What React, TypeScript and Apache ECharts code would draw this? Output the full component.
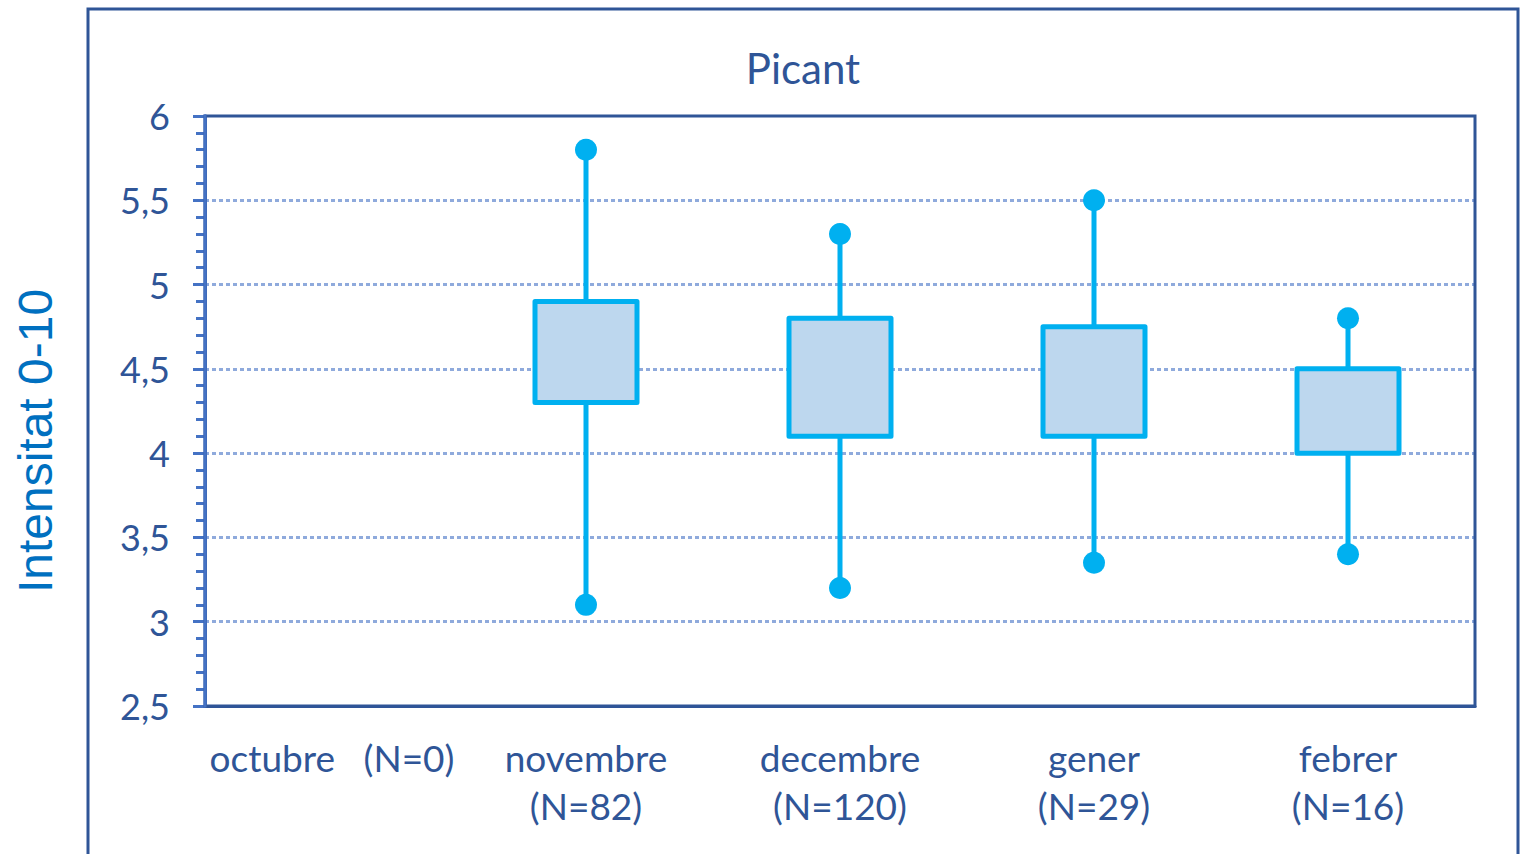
import React, { useEffect, useRef } from "react";
import * as echarts from "echarts";

const categories = ["octubre   (N=0)", "novembre\n(N=82)", "decembre\n(N=120)", "gener\n(N=29)", "febrer\n(N=16)"];
// per category: min, q1, q3, max
const boxMin = [null, 3.1, 3.2, 3.35, 3.4];
const boxQ1 = [null, 4.3, 4.1, 4.1, 4.0];
const boxQ3 = [null, 4.9, 4.8, 4.75, 4.5];
const boxMax = [null, 5.8, 5.3, 5.5, 4.8];
const yMin = 2.5;
const yMax = 6;
const yInterval = 0.5;
const titleText = "Picant";
const yAxisTitle = "Intensitat 0-10";

const FONT = "Lato";
const NAVY = "#2f5597";

export default function App() {
  const ref = useRef<HTMLDivElement>(null);
  useEffect(() => {
    if (!ref.current) return;
    const chart = echarts.init(ref.current, null, { renderer: "svg" });
    const data: any[] = [];
    categories.forEach((_, i) => {
      if (boxMin[i] == null) return;
      data.push([i, boxMin[i], boxQ1[i], boxQ3[i], boxMax[i]]);
    });
    chart.setOption({
      animation: false,
      backgroundColor: "#ffffff",
      grid: {
        left: 205,
        right: 46,
        top: 116,
        bottom: 148,
        show: false,
      },
      xAxis: {
        type: "category",
        data: categories,
        boundaryGap: true,
        axisLine: { show: true, lineStyle: { color: NAVY, width: 3 } },
        axisTick: { show: false },
        axisLabel: {
          interval: 0,
          color: NAVY,
          fontFamily: FONT,
          fontSize: 37,
          lineHeight: 48,
          margin: 27,
        },
      },
      yAxis: {
        type: "value",
        min: yMin,
        max: yMax,
        interval: yInterval,
        axisLine: { show: true, lineStyle: { color: "#4472c4", width: 3 } },
        axisTick: { show: true, length: 12, lineStyle: { color: "#4472c4", width: 3 } },
        minorTick: { show: true, splitNumber: 5, length: 9, lineStyle: { color: "#4472c4", width: 3 } },
        splitLine: {
          show: true,
          showMinLine: false,
          showMaxLine: false,
          lineStyle: { color: "#8faadc", width: 3, type: [4, 3] },
        },
        axisLabel: {
          color: NAVY,
          fontFamily: FONT,
          fontSize: 36,
          margin: 35,
          formatter: (v: number) => String(v).replace(".", ","),
        },
      },
      graphic: [
        {
          type: "rect",
          shape: { x: 88, y: 9, width: 1430, height: 900 },
          style: { fill: "none", stroke: NAVY, lineWidth: 3 },
          silent: true,
        },
        {
          type: "rect",
          shape: { x: 205, y: 116, width: 1270, height: 590 },
          style: { fill: "none", stroke: NAVY, lineWidth: 3 },
          silent: true,
          z: 100,
        },
        {
          type: "line",
          shape: { x1: 205, y1: 114.5, x2: 205, y2: 707.5 },
          style: { stroke: "#4472c4", lineWidth: 3 },
          silent: true,
          z: 101,
        },
        {
          type: "text",
          x: 803,
          y: 68,
          style: {
            text: titleText,
            fill: NAVY,
            font: `42px ${FONT}`,
            textAlign: "center",
            textVerticalAlign: "middle",
          },
        },
        {
          type: "text",
          x: 35,
          y: 441,
          rotation: Math.PI / 2,
          style: {
            text: yAxisTitle,
            fill: "#0070c0",
            font: `48px "Liberation Sans", Arial, sans-serif`,
            textAlign: "center",
            textVerticalAlign: "middle",
          },
        },
      ],
      series: [
        {
          type: "custom",
          data,
          encode: { x: 0, y: [1, 2, 3, 4] },
          renderItem: (params: any, api: any) => {
            const idx = api.value(0);
            const pMin = api.coord([idx, api.value(1)]);
            const pQ1 = api.coord([idx, api.value(2)]);
            const pQ3 = api.coord([idx, api.value(3)]);
            const pMax = api.coord([idx, api.value(4)]);
            const bw = 102;
            const cx = pMin[0];
            const color = "#00b0f0";
            return {
              type: "group",
              children: [
                {
                  type: "line",
                  shape: { x1: cx, y1: pMax[1], x2: cx, y2: pMin[1] },
                  style: { stroke: color, lineWidth: 5 },
                },
                {
                  type: "rect",
                  shape: { x: cx - bw / 2, y: pQ3[1], width: bw, height: pQ1[1] - pQ3[1] },
                  style: { fill: "#bdd7ee", stroke: color, lineWidth: 5, lineJoin: "round" },
                },
                {
                  type: "circle",
                  shape: { cx, cy: pMax[1], r: 11 },
                  style: { fill: color },
                },
                {
                  type: "circle",
                  shape: { cx, cy: pMin[1], r: 11 },
                  style: { fill: color },
                },
              ],
            };
          },
        },
      ],
    });
    return () => chart.dispose();
  }, []);
  return (
    <div
      ref={ref}
      style={{ position: "fixed", left: 0, top: 0, width: 1521, height: 854, background: "#fff" }}
    />
  );
}
